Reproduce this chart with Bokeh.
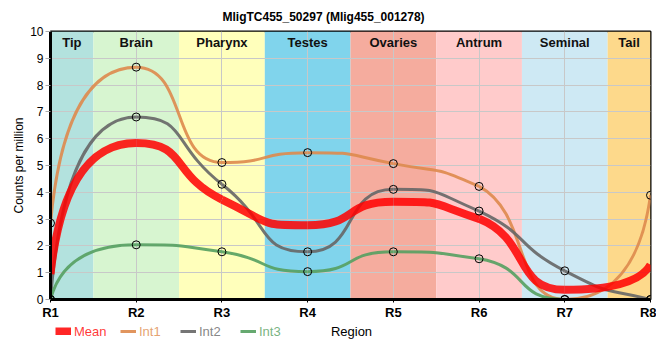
import numpy as np
from bokeh.plotting import figure
from bokeh.layouts import column
from bokeh.models import Range1d, FixedTicker, Legend, LegendItem, ColumnDataSource, Title, Label
from bokeh.core.properties import value
from bokeh.embed import file_html
from bokeh.resources import INLINE

regions = ["R1", "R2", "R3", "R4", "R5", "R6", "R7", "R8"]
tissues = ["Tip", "Brain", "Pharynx", "Testes", "Ovaries", "Antrum", "Seminal", "Tail"]
tissue_colors = ["#b3e2de", "#d7f5d0", "#ffffbb", "#80d4ec", "#f5ac9e", "#ffcbcb", "#cee9f4", "#fdd98b"]
int1 = [2.85, 8.67, 5.11, 5.48, 5.07, 4.22, 0.0, 3.89]
int2 = [0.0, 6.81, 4.30, 1.78, 4.11, 3.30, 1.07, 0.0]
int3 = [0.0, 2.04, 1.78, 1.04, 1.78, 1.52, 0.0, 0.0]
mean = [0.95, 5.84, 3.73, 2.77, 3.65, 3.01, 0.36, 1.30]

FONT = "Liberation Sans"
C_MEAN, C_INT1, C_INT2, C_INT3 = "#ff0000", "#de8a4c", "#666666", "#55a060"

W = 656
p = figure(width=W, height=322, output_backend="svg", toolbar_location=None,
           x_range=Range1d(0, 7), y_range=Range1d(0, 10),
           min_border_left=50, min_border_right=W - 650, min_border_top=30, min_border_bottom=22)

p.title = Title(text="MligTC455_50297 (Mlig455_001278)", align="left", offset=172,
                text_font=FONT, text_font_size="12px", text_font_style="bold",
                text_color="#000000", standoff=15)

xs = list(range(len(regions)))

# background bands
p.vbar(x=xs, width=1, bottom=0, top=10, fill_color=tissue_colors, line_color=None, level="image")

# tissue labels
left = [max(i - 0.5, 0) for i in xs]
right = [min(i + 0.5, len(xs) - 1) for i in xs]
centers = [(a + b) / 2 for a, b in zip(left, right)]
p.text(x=centers, y=[10] * len(xs), text=tissues, text_align="center", text_baseline="top",
       y_offset=3, text_font=value(FONT), text_font_size="13px", text_font_style="bold",
       text_color="#111111")


def smooth_bezier(x, y, k=0.6):
    """Bezier control points of a smooth monotone curve through the data points."""
    x = np.asarray(x, float); y = np.asarray(y, float)
    n = len(x)
    h = np.diff(x)
    s = np.diff(y) / h
    t = np.zeros(n)
    for i in range(1, n - 1):
        s0, s1 = s[i - 1], s[i]
        pp = (s0 * h[i] + s1 * h[i - 1]) / (h[i - 1] + h[i])
        t[i] = (np.sign(s0) + np.sign(s1)) * min(abs(s0), abs(s1), 0.5 * abs(pp))
    out = {key: [] for key in ("x0", "y0", "x1", "y1", "cx0", "cy0", "cx1", "cy1")}
    for i in range(n - 1):
        x0, x1, y0, y1, hh = x[i], x[i + 1], y[i], y[i + 1], h[i]
        d = y1 - y0
        lo, hi = min(y0, y1), max(y0, y1)
        if i == 0:
            if t[1] == 0:
                c0 = (x0 + 0.1 * hh, y0 + 0.6 * d)
            else:
                te = (3 * s[0] - t[1]) / 2
                c0 = (x0 + k * hh, y0 + k * hh * te)
        else:
            c0 = (x0 + k * hh, y0 + k * hh * t[i])
        if i == n - 2:
            if t[n - 2] == 0:
                c1 = (x1 - 0.1 * hh, y1 - 0.6 * d)
            else:
                te = (3 * s[-1] - t[n - 2]) / 2
                c1 = (x1 - k * hh, y1 - k * hh * te)
        else:
            c1 = (x1 - k * hh, y1 - k * hh * t[i + 1])
        out["x0"].append(x0); out["y0"].append(y0)
        out["x1"].append(x1); out["y1"].append(y1)
        out["cx0"].append(c0[0]); out["cy0"].append(min(max(c0[1], lo), hi))
        out["cx1"].append(c1[0]); out["cy1"].append(min(max(c1[1], lo), hi))
    return out


series = [(int1, C_INT1), (int2, C_INT2), (int3, C_INT3)]
for ys, col in series:
    src = ColumnDataSource(smooth_bezier(xs, ys))
    p.bezier(x0="x0", y0="y0", x1="x1", y1="y1", cx0="cx0", cy0="cy0", cx1="cx1", cy1="cy1",
             source=src, line_color=col, line_width=3, line_alpha=0.9)

msrc = ColumnDataSource(smooth_bezier(xs, mean))
p.bezier(x0="x0", y0="y0", x1="x1", y1="y1", cx0="cx0", cy0="cy0", cx1="cx1", cy1="cy1",
         source=msrc, line_color=C_MEAN, line_width=8, line_alpha=0.85)

for ys, col in series:
    p.scatter(x=xs, y=ys, marker="circle", size=8, fill_alpha=0, line_color="#000000", line_width=1)

# axes
p.xaxis.ticker = FixedTicker(ticks=xs)
p.xaxis.major_label_overrides = {i: r for i, r in zip(xs, regions)}
p.yaxis.ticker = FixedTicker(ticks=list(range(0, 11)))
p.yaxis.axis_label = "Counts per million"
for ax in (p.xaxis, p.yaxis):
    ax.axis_line_color = "#000000"
    ax.axis_line_width = 3
    ax.minor_tick_line_color = None
    ax.major_tick_in = 0
    ax.axis_label_text_font = FONT
    ax.axis_label_text_font_style = "normal"
    ax.axis_label_text_color = "#000000"
    ax.major_label_text_font = FONT
    ax.major_label_text_color = "#000000"
p.xaxis.major_tick_out = 3
p.yaxis.major_tick_out = 5
p.xaxis.major_tick_line_color = "#000000"
p.yaxis.major_tick_line_color = "#aaaaaa"
p.xaxis.major_label_text_font_size = "13px"
p.xaxis.major_label_text_font_style = "bold"
p.yaxis.major_label_text_font_size = "12px"
p.yaxis.axis_label_text_font_size = "12px"
p.xaxis.major_label_standoff = 2
p.yaxis.major_label_standoff = 2
p.yaxis.axis_label_standoff = 1

p.xgrid.grid_line_color = "#c8c8c8"
p.ygrid.grid_line_color = "#c8c8c8"
p.outline_line_color = "#000000"
p.outline_line_width = 2
p.background_fill_color = "#ffffff"

# bottom strip: x-axis title and legend (its frame is aligned with the main frame, x from 50)
strip = figure(width=W, height=34, output_backend="svg", toolbar_location=None,
               x_range=Range1d(0, 1), y_range=Range1d(0, 1), x_axis_type=None, y_axis_type=None,
               min_border=0)
strip.grid.visible = False
strip.outline_line_color = None

strip.add_layout(Label(x=301, y=25, x_units="screen", y_units="screen", text="Region",
                       text_align="center", text_baseline="middle", text_font=FONT,
                       text_font_size="13px", text_color="#000000"))

leg_items = [("Mean", C_MEAN, 8, 0.85), ("Int1", C_INT1, 3, 0.9),
             ("Int2", C_INT2, 3, 0.9), ("Int3", C_INT3, 3, 0.9)]
leg_x = [5, 70, 130, 190]
for (lab, col, lw, al), lx in zip(leg_items, leg_x):
    r = strip.line(x=[5, 6], y=[5, 5], line_color=col, line_width=lw, line_alpha=al)
    lg = Legend(items=[LegendItem(label=lab, renderers=[r])], location=(lx, 17),
                orientation="horizontal", glyph_width=16, glyph_height=8, label_standoff=3,
                label_height=16, label_text_font=FONT, label_text_font_size="13px",
                label_text_color=col, label_text_alpha=0.8, padding=0, margin=0, spacing=0,
                border_line_color=None, background_fill_alpha=0)
    strip.add_layout(lg, "center")

layout = column(p, strip, spacing=0)
open("out.html", "w").write(file_html(layout, INLINE))
